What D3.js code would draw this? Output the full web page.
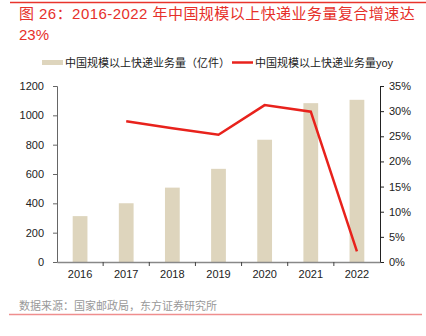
<!DOCTYPE html>
<html>
<head>
<meta charset="utf-8">
<script src="https://cdn.jsdelivr.net/npm/d3@7"></script>
<style>
  body { margin: 0; background: #fff; }
  svg { display: block; font-family: "Liberation Sans", "Noto Sans CJK SC", sans-serif; }
</style>
</head>
<body>
<div id="chart"></div>
<script>
// chart data
const years = ['2016', '2017', '2018', '2019', '2020', '2021', '2022'];
const volume = [312.8, 400.6, 507.1, 635.2, 833.6, 1083, 1105.8];
const yoy = [null, 28.0, 26.6, 25.3, 31.2, 29.9, 2.1];
const leftTicks = [0, 200, 400, 600, 800, 1000, 1200];
const rightTicks = [0, 5, 10, 15, 20, 25, 30, 35];

const width = 426, height = 336;
const margin = { top: 86, right: 46, bottom: 74, left: 57 };

const svg = d3.select('#chart').append('svg')
	.attr('width', width)
	.attr('height', height);

// top red rule and title
svg.append('line')
	.attr('x1', 10).attr('x2', 426)
	.attr('y1', 2.5).attr('y2', 2.5)
	.attr('stroke', '#e8342c').attr('stroke-width', 1.5);

svg.append('text')
	.attr('x', 19).attr('y', 19)
	.attr('fill', '#e6302a')
	.style('font-size', '15px')
	.style('letter-spacing', '0.45px')
	.text('图 26：2016-2022 年中国规模以上快递业务量复合增速达');
svg.append('text')
	.attr('x', 19).attr('y', 40)
	.attr('fill', '#e6302a')
	.style('font-size', '15px')
	.text('23%');

const x = d3.scaleBand()
	.domain(years)
	.range([margin.left, width - margin.right])
	.paddingInner(0.68)
	.paddingOuter(0.34);

const xOuter = d3.scaleBand()
	.domain(years)
	.range([margin.left, width - margin.right]);

const y = d3.scaleLinear()
	.domain([0, 1200])
	.range([height - margin.bottom, margin.top]);

const y2 = d3.scaleLinear()
	.domain([0, 35])
	.range([height - margin.bottom, margin.top]);

// bars
svg.append('g')
	.selectAll('rect')
	.data(volume)
	.enter().append('rect')
	.attr('x', (d, i) => x(years[i]))
	.attr('y', d => y(d))
	.attr('width', x.bandwidth())
	.attr('height', d => y(0) - y(d))
	.attr('fill', '#ded5bd');

// left axis
const leftAxis = svg.append('g')
	.attr('transform', `translate(${margin.left},0)`)
	.call(d3.axisLeft(y).tickValues(leftTicks).tickSize(4).tickPadding(9)
		.tickFormat(d3.format('d')));
leftAxis.select('.domain').attr('stroke', '#666');
leftAxis.selectAll('.tick line').attr('stroke', '#666');
leftAxis.selectAll('text').style('font-size', '11px').attr('fill', '#222')
	.style('font-family', '"Liberation Sans", Arial, sans-serif');

// right axis
const rightAxis = svg.append('g')
	.attr('transform', `translate(${width - margin.right},0)`)
	.call(d3.axisRight(y2).tickValues(rightTicks).tickSize(4).tickPadding(5)
		.tickFormat(d => d + '%'));
rightAxis.select('.domain').attr('stroke', '#222');
rightAxis.selectAll('.tick line').attr('stroke', '#222');
rightAxis.selectAll('text').style('font-size', '11px').attr('fill', '#222')
	.style('font-family', '"Liberation Sans", Arial, sans-serif');

// bottom axis
const bottomAxis = svg.append('g')
	.attr('transform', `translate(0,${height - margin.bottom})`)
	.call(d3.axisBottom(xOuter).tickSize(0).tickPadding(8));
bottomAxis.select('.domain').attr('stroke', '#888').attr('stroke-width', 1.5);
bottomAxis.selectAll('text').style('font-size', '11px').attr('fill', '#222')
	.style('font-family', '"Liberation Sans", Arial, sans-serif');
// tick marks between categories
svg.append('g')
	.selectAll('line')
	.data(years.slice(1))
	.enter().append('line')
	.attr('x1', d => xOuter(d)).attr('x2', d => xOuter(d))
	.attr('y1', height - margin.bottom).attr('y2', height - margin.bottom + 4)
	.attr('stroke', '#444');

// yoy line
const line = d3.line()
	.defined(d => d != null)
	.x((d, i) => xOuter(years[i]) + xOuter.bandwidth() / 2)
	.y(d => y2(d));

svg.append('path')
	.datum(yoy)
	.attr('d', line)
	.attr('fill', 'none')
	.attr('stroke', '#e8221c')
	.attr('stroke-width', 2.5);

// legend
const legend = svg.append('g').style('font-size', '11px');
legend.append('rect')
	.attr('x', 42).attr('y', 60).attr('width', 21).attr('height', 5)
	.attr('fill', '#ded5bd');
legend.append('text')
	.attr('x', 65).attr('y', 66.5).attr('fill', '#222')
	.text('中国规模以上快递业务量（亿件）');
legend.append('line')
	.attr('x1', 232).attr('x2', 253).attr('y1', 62.5).attr('y2', 62.5)
	.attr('stroke', '#e8221c').attr('stroke-width', 2.5);
legend.append('text')
	.attr('x', 255).attr('y', 66.5).attr('fill', '#222')
	.text('中国规模以上快递业务量yoy');

// source + bottom rule
svg.append('text')
	.attr('x', 19).attr('y', 309.5)
	.attr('fill', '#999')
	.style('font-size', '11px')
	.text('数据来源：国家邮政局，东方证券研究所');
svg.append('line')
	.attr('x1', 9).attr('x2', 422)
	.attr('y1', 314.5).attr('y2', 314.5)
	.attr('stroke', '#ef8e8e').attr('stroke-width', 1.5);
</script>
</body>
</html>
